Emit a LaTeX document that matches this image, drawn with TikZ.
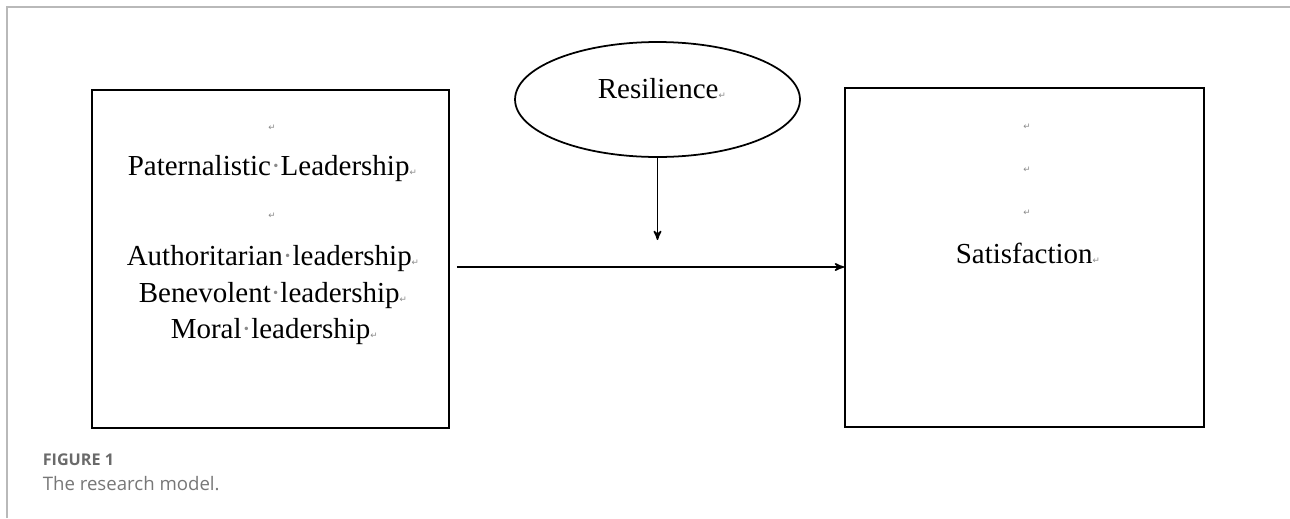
\documentclass[tikz,border=0pt]{standalone}
\usepackage{fontspec}
\setmainfont{Liberation Serif}
\newfontfamily\symfont{DejaVu Sans}
\newfontfamily\capfont{Open Sans}
\usetikzlibrary{arrows,shapes.geometric}

\definecolor{framegray}{HTML}{B9B9B9}
\definecolor{capgray}{HTML}{6A6A6A}
\definecolor{captxtgray}{HTML}{777777}
\definecolor{markgray}{HTML}{8A8A8A}
\newcommand{\rmark}{{\symfont\fontsize{5}{5}\selectfont\textcolor{markgray}{↵}}}
\newcommand{\wdot}{\textcolor{markgray}{·}}

\begin{document}
\begin{tikzpicture}[x=0.02cm,y=-0.02cm,>=stealth',line width=0.9pt,
  box node/.style={draw,line width=1.1pt,inner sep=0pt},
  ell node/.style={ellipse,draw,line width=1pt,inner sep=0pt,
    minimum width=5.7cm,minimum height=2.3cm},
  txt node/.style={inner sep=0pt,anchor=base west,font=\fontsize{16.5}{20}\selectfont},
  mark node/.style={inner sep=0pt}]
  \useasboundingbox (0,0) rectangle (1290,518);
  \draw[framegray,line width=1.1pt] (7,518) -- (7,7) -- (1290,7);

  % boxes
  \node[box node,minimum width=7.14cm,minimum height=6.76cm] (lead) at (270.5,259) {};
  \node[box node,minimum width=7.18cm,minimum height=6.78cm] (satis) at (1024.5,257.5) {};
  \node[ell node] (resil) at (657.5,99.5) {};

  % texts
  \node[txt node] (restxt) at (597,98) {Resilience\rmark};
  \node[mark node] (m1) at (272,128) {\rmark};
  \node[txt node] (pat) at (127,175) {Paternalistic\wdot Leadership\rmark};
  \node[mark node] (m2) at (272,216) {\rmark};
  \node[txt node] (auth) at (126,265) {Authoritarian\wdot leadership\rmark};
  \node[txt node] (bene) at (138,302) {Benevolent\wdot leadership\rmark};
  \node[txt node] (moral) at (170,338) {Moral\wdot leadership\rmark};
  \node[mark node] (m3) at (1027,127) {\rmark};
  \node[mark node] (m4) at (1027,170) {\rmark};
  \node[mark node] (m5) at (1027,213) {\rmark};
  \node[txt node] (sat) at (955,263) {Satisfaction\rmark};

  % arrows
  \coordinate (tip) at (657.5,240);
  \coordinate (mid) at (657.5,267);
  \draw[->] (resil.south) -- (tip);
  \draw[->] ([xshift=4pt]lead.east |- mid) -- (satis.west |- mid);

  % caption
  \node[inner sep=0pt,anchor=base west,font=\capfont\bfseries\fontsize{9.2}{11}\selectfont,
    text=capgray] (fig) at (42,465) {FIGURE 1};
  \node[inner sep=0pt,anchor=base west,font=\capfont\fontsize{10.6}{12}\selectfont,
    text=captxtgray] (cap) at (42,490) {The research model.};
\end{tikzpicture}
\end{document}
